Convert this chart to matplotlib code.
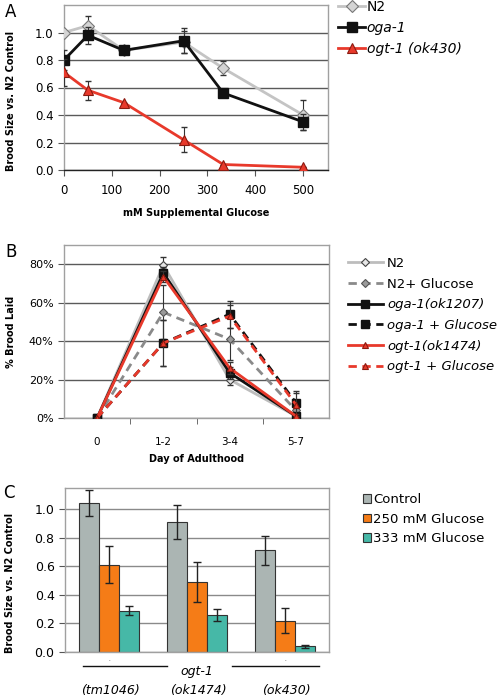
import numpy as np
import matplotlib
matplotlib.use("Agg")
import matplotlib.pyplot as plt
from matplotlib.lines import Line2D
import matplotlib.transforms as mtransforms

plt.rcParams['font.family'] = ['DejaVu Sans']

# ---- Panel A: brood size vs glucose ----
glucose_mm = [0, 50, 125, 250, 333, 500]
n2_brood = [1.00, 1.05, 0.87, 0.93, 0.74, 0.40]
n2_err = [0.0, 0.07, 0.0, 0.08, 0.05, 0.11]
oga1_brood = [0.80, 0.98, 0.87, 0.94, 0.56, 0.35]
oga1_err = [0.07, 0.06, 0.0, 0.09, 0.0, 0.06]
ogt1_brood = [0.71, 0.58, 0.49, 0.22, 0.04, 0.02]
ogt1_err = [0.10, 0.07, 0.0, 0.09, 0.0, 0.0]

# ---- Panel B: % brood laid per day ----
days = ["0", "1-2", "3-4", "5-7"]
b_n2 = [0.0, 0.795, 0.20, 0.01]
b_n2_err = [0.0, 0.045, 0.03, 0.01]
b_n2_glc = [0.0, 0.55, 0.41, 0.04]
b_n2_glc_err = [0.0, 0.14, 0.11, 0.02]
b_oga = [0.0, 0.755, 0.235, 0.01]
b_oga_err = [0.0, 0.03, 0.03, 0.01]
b_oga_glc = [0.0, 0.39, 0.54, 0.08]
b_oga_glc_err = [0.0, 0.12, 0.07, 0.06]
b_ogt = [0.0, 0.735, 0.26, 0.01]
b_ogt_err = [0.0, 0.03, 0.03, 0.01]
b_ogt_glc = [0.0, 0.39, 0.53, 0.07]
b_ogt_glc_err = [0.0, 0.12, 0.06, 0.06]

# ---- Panel C: bars ----
c_alleles = ["(tm1046)", "(ok1474)", "(ok430)"]
c_control = [1.04, 0.91, 0.71]
c_control_err = [0.09, 0.12, 0.10]
c_250 = [0.61, 0.49, 0.22]
c_250_err = [0.13, 0.14, 0.09]
c_333 = [0.29, 0.26, 0.04]
c_333_err = [0.03, 0.04, 0.01]

W, H = 498, 698
fig = plt.figure(figsize=(W / 100, H / 100), dpi=100)


def box(l, t, r, b):
    return [l / W, 1 - b / H, (r - l) / W, (b - t) / H]


def style_axes(ax, grid_color):
    for s in ax.spines.values():
        s.set_color('#a0a0a0')
        s.set_linewidth(1.0)
    ax.yaxis.grid(True, color=grid_color, linewidth=1.0)
    ax.set_axisbelow(True)


def series(ax, x, y, err, **kw):
    # error bars first, then the line+marker that goes in the legend
    ax.errorbar(x, y, yerr=err, fmt='none', ecolor='#333333', elinewidth=0.8,
                capsize=2.5, zorder=kw.get('zorder', 3) - 0.5)
    ax.plot(x, y, **kw)


red = '#e8392b'
red_edge = '#8b1a10'

# ================= A =================
axA = fig.add_axes(box(64, 5, 328, 170))
style_axes(axA, '#5a5a5a')
axA.spines['bottom'].set_color('#222222')
series(axA, glucose_mm, n2_brood, n2_err, color='#c4c4c4', lw=2.0,
       marker='D', ms=6, mfc='#d4d4d4', mec='#777777', mew=0.8, label='N2', zorder=3)
series(axA, glucose_mm, oga1_brood, oga1_err, color='#111111', lw=2.0,
       marker='s', ms=7, mfc='#111111', mec='#111111', label='oga-1', zorder=4)
series(axA, glucose_mm, ogt1_brood, ogt1_err, color=red, lw=2.0,
       marker='^', ms=7.5, mfc=red, mec=red_edge, mew=0.8, label='ogt-1 (ok430)', zorder=5)
axA.set_xlim(0, 552)
axA.set_ylim(0, 1.2)
axA.set_xticks([0, 100, 200, 300, 400, 500])
axA.set_yticks([0, 0.2, 0.4, 0.6, 0.8, 1.0])
axA.set_yticklabels(['0.0', '0.2', '0.4', '0.6', '0.8', '1.0'])
axA.tick_params(axis='both', labelsize=8.5, length=4, color='#555555', direction='out')
axA.tick_params(axis='x', pad=6)
axA.set_xlabel('mM Supplemental Glucose', fontsize=7, fontweight='bold', labelpad=8)
axA.set_ylabel('Brood Size vs. N2 Control', fontsize=7, fontweight='bold')
axA.yaxis.set_label_coords(-0.18, 0.42)
legA = axA.legend(loc='upper left', bbox_to_anchor=(338 / W, 1 - 0 / H),
                  bbox_transform=fig.transFigure, frameon=False, fontsize=10,
                  borderaxespad=0, borderpad=0, handlelength=1.95, handletextpad=0.12,
                  labelspacing=0.5)
for t in legA.get_texts()[1:]:
    t.set_style('italic')
fig.text(5 / W, 1 - 12 / H, 'A', fontsize=12, va='center', ha='left')

# ================= B =================
axB = fig.add_axes(box(64, 245, 329, 418))
style_axes(axB, '#5a5a5a')
xb = np.arange(len(days))
dash = (0, (3, 2))
series(axB, xb, b_n2, b_n2_err, color='#bdbdbd', lw=2.0, marker='D', ms=4,
       mfc='#e6e6e6', mec='#444444', mew=0.8, label='N2', zorder=3)
series(axB, xb, b_n2_glc, b_n2_glc_err, color='#8a8a8a', lw=2.0, ls=dash,
       marker='D', ms=4, mfc='#9a9a9a', mec='#555555', mew=0.8,
       label='N2+ Glucose', zorder=3)
series(axB, xb, b_oga, b_oga_err, color='#111111', lw=2.0, marker='s', ms=6,
       mfc='#111111', mec='#111111', label='oga-1(ok1207)', zorder=4)
series(axB, xb, b_oga_glc, b_oga_glc_err, color='#111111', lw=2.0, ls=dash,
       marker='s', ms=6, mfc='#111111', mec='#111111',
       label='oga-1 + Glucose', zorder=4)
series(axB, xb, b_ogt, b_ogt_err, color=red, lw=2.0, marker='^', ms=5,
       mfc=red, mec=red_edge, mew=0.8, label='ogt-1(ok1474)', zorder=5)
series(axB, xb, b_ogt_glc, b_ogt_glc_err, color=red, lw=2.0, ls=dash,
       marker='^', ms=5, mfc=red, mec=red_edge, mew=0.8,
       label='ogt-1 + Glucose', zorder=5)
axB.set_xlim(-0.5, 3.5)
axB.set_ylim(0, 0.9)
axB.set_yticks([0, 0.2, 0.4, 0.6, 0.8])
axB.set_yticklabels(['0%', '20%', '40%', '60%', '80%'])
axB.set_xticks(xb)
axB.set_xticklabels(days)
axB.set_xticks([0.5, 1.5, 2.5], minor=True)
axB.tick_params(axis='x', which='major', length=0, labelsize=7.5, pad=14)
axB.tick_params(axis='x', which='minor', length=4, color='#555555')
axB.tick_params(axis='y', labelsize=8, length=4, color='#555555')
axB.set_xlabel('Day of Adulthood', fontsize=7, fontweight='bold', labelpad=5)
axB.set_ylabel('% Brood Laid', fontsize=7, fontweight='bold')
axB.yaxis.set_label_coords(-0.18, 0.5)
legB = axB.legend(loc='upper left', bbox_to_anchor=(348 / W, 1 - 257 / H),
                  bbox_transform=fig.transFigure, frameon=False, fontsize=9.5,
                  borderaxespad=0, borderpad=0, handlelength=2.65, handletextpad=0.3,
                  labelspacing=0.58)
for t in legB.get_texts()[2:]:
    t.set_style('italic')
fig.text(5 / W, 1 - 252 / H, 'B', fontsize=12, va='center', ha='left')

# ================= C =================
axC = fig.add_axes(box(65, 488, 329, 652))
style_axes(axC, '#8a8a8a')
xc = np.arange(len(c_alleles))
bw = 0.227
bkw = dict(edgecolor='#333333', linewidth=0.8,
           error_kw=dict(ecolor='#222222', elinewidth=1.0, capsize=3))
axC.bar(xc - bw, c_control, bw, yerr=c_control_err, color='#abb5b3', label='Control', **bkw)
axC.bar(xc, c_250, bw, yerr=c_250_err, color='#f57c17', label='250 mM Glucose', **bkw)
axC.bar(xc + bw, c_333, bw, yerr=c_333_err, color='#46b8a7', label='333 mM Glucose', **bkw)
axC.set_xlim(-0.5, 2.5)
axC.set_ylim(0, 1.147)
axC.set_yticks([0, 0.2, 0.4, 0.6, 0.8, 1.0])
axC.set_yticklabels(['0.0', '0.2', '0.4', '0.6', '0.8', '1.0'])
axC.set_xticks([])
axC.tick_params(axis='y', labelsize=9, length=4, color='#555555')
axC.set_ylabel('Brood Size vs. N2 Control', fontsize=7, fontweight='bold')
axC.yaxis.set_label_coords(-0.19, 0.42)
legC = axC.legend(loc='upper left', bbox_to_anchor=(363 / W, 1 - 493 / H),
                  bbox_transform=fig.transFigure, frameon=False, fontsize=9.5,
                  borderaxespad=0, borderpad=0, handlelength=0.6, handleheight=0.6,
                  handletextpad=0.15, labelspacing=0.5)
fig.text(3 / W, 1 - 493 / H, 'C', fontsize=12, va='center', ha='left')

# group label lines under panel C
trans = axC.transAxes
for x0, x1 in [(0.068, 0.386), (0.633, 0.962)]:
    axC.add_line(Line2D([x0, x1], [-0.085, -0.085], transform=trans, color='#111111',
                        lw=1.0, clip_on=False))
blend = mtransforms.blended_transform_factory(axC.transData, axC.transAxes)
axC.text(0, -0.06, '.', transform=blend, fontsize=4, ha='center', va='bottom')
axC.text(2, -0.06, '.', transform=blend, fontsize=4, ha='center', va='bottom')
axC.text(1, -0.116, 'ogt-1', transform=blend, fontsize=9, style='italic',
         ha='center', va='center')
for i, lab in enumerate(c_alleles):
    axC.text(i + 0.02, -0.232, lab, transform=blend, fontsize=9, style='italic',
             ha='center', va='center')

fig.savefig('out.png', dpi=100)
